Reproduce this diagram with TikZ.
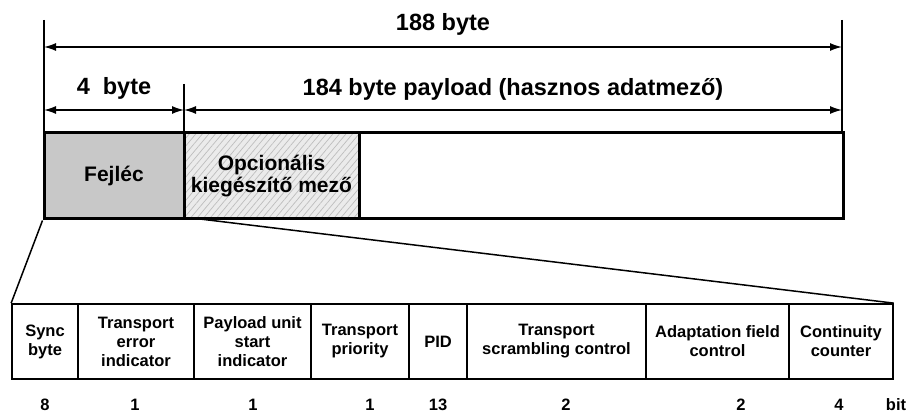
\documentclass[tikz,border=0pt]{standalone}
\usepackage{fontspec}
\setmainfont{Liberation Sans}
\usetikzlibrary{arrows.meta,patterns.meta}
\definecolor{hdrgray}{HTML}{C8C8C8}
\definecolor{optgray}{HTML}{EBEBEB}
\definecolor{hatchgray}{HTML}{BDBDBD}
\begin{document}
\begin{tikzpicture}[x=1pt,y=-1pt,
  dimline/.style={line width=1.4pt},
  dimarrow/.style={line width=1.4pt,{Latex[length=12pt,width=8pt]}-{Latex[length=12pt,width=8pt]}},
  toplabel/.style={font=\fontsize{23.5}{27}\selectfont\bfseries, anchor=base, inner sep=0pt},
  boxfield/.style={draw, line width=3pt, inner sep=0pt, minimum height=86pt, align=center, font=\fontsize{21}{22.5}\selectfont\bfseries},
  cell/.style={draw, line width=1.7pt, inner sep=0pt, minimum height=75pt, align=center, font=\fontsize{16.5}{19}\selectfont\bfseries},
  bitlabel/.style={font=\fontsize{16.5}{18}\selectfont\bfseries, anchor=base, inner sep=0pt},
  zoomline/.style={line width=1.5pt},
]
\useasboundingbox (0,0) rectangle (906,414);

% dimension references
\coordinate (Ltop) at (44,20);
\coordinate (Rtop) at (842,20);
\coordinate (Lbot) at (44,133);
\coordinate (Rbot) at (842,133);
\coordinate (Dtop) at (184,84);
\coordinate (Dbot) at (184,133);
\coordinate (A1l) at (44,47);
\coordinate (A1r) at (842,47);
\coordinate (A2l) at (44,110);
\coordinate (A2m) at (184,110);
\coordinate (A2r) at (842,110);

\draw[dimline] (Ltop) -- (Lbot);
\draw[dimline] (Rtop) -- (Rbot);
\draw[dimline] (Dtop) -- (Dbot);
\draw[dimarrow] (A1l) -- (A1r);
\draw[dimarrow] (A2l) -- (A2m);
\draw[dimarrow] (A2m) -- (A2r);

\node[toplabel] (t188) at (443,31) {188 byte};
\node[toplabel] (t4) at (114,95) {4\ \ byte};
\node[toplabel] (t184) at (513,96) {184 byte payload (hasznos adatmező)};

% packet
\node[boxfield, minimum width=799pt] (pkt) at (443.5,176) {};
\node[boxfield, minimum width=140pt, fill=hdrgray] (hdr) at (114,176) {Fejléc};
\node[boxfield, minimum width=175pt,
      preaction={fill=optgray},
      preaction={pattern={Lines[angle=50,distance=5pt,line width=0.7pt]}, pattern color=hatchgray}] (opt) at (271.5,176) {Opcionális\\kiegészítő mező};

% header fields
\node[cell, minimum width=66pt]  (c1) at (45,341.5) {Sync\\byte};
\node[cell, minimum width=116pt] (c2) at (136,341.5) {Transport\\error\\indicator};
\node[cell, minimum width=117pt] (c3) at (252.5,341.5) {Payload unit\\start\\indicator};
\node[cell, minimum width=98pt]  (c4) at (360,341.5) {Transport\\priority};
\node[cell, minimum width=58pt]  (c5) at (438,341.5) {PID};
\node[cell, minimum width=179pt] (c6) at (556.5,341.5) {Transport\\scrambling control};
\node[cell, minimum width=143pt] (c7) at (717.5,341.5) {Adaptation field\\control};
\node[cell, minimum width=104pt] (c8) at (841,341.5) {Continuity\\counter};

% zoom lines
\coordinate (zr) at (200,219);
\draw[zoomline] (hdr.south west) -- (c1.north west);
\draw[zoomline] (zr) -- (c8.north east);

% bit counts
\node[bitlabel] (b1) at (45,410) {8};
\node[bitlabel] (b2) at (135,410) {1};
\node[bitlabel] (b3) at (253,410) {1};
\node[bitlabel] (b4) at (370,410) {1};
\node[bitlabel] (b5) at (438,410) {13};
\node[bitlabel] (b6) at (566,410) {2};
\node[bitlabel] (b7) at (741,410) {2};
\node[bitlabel] (b8) at (839,410) {4};
\node[bitlabel] (b9) at (896,410) {bit};
\end{tikzpicture}
\end{document}
